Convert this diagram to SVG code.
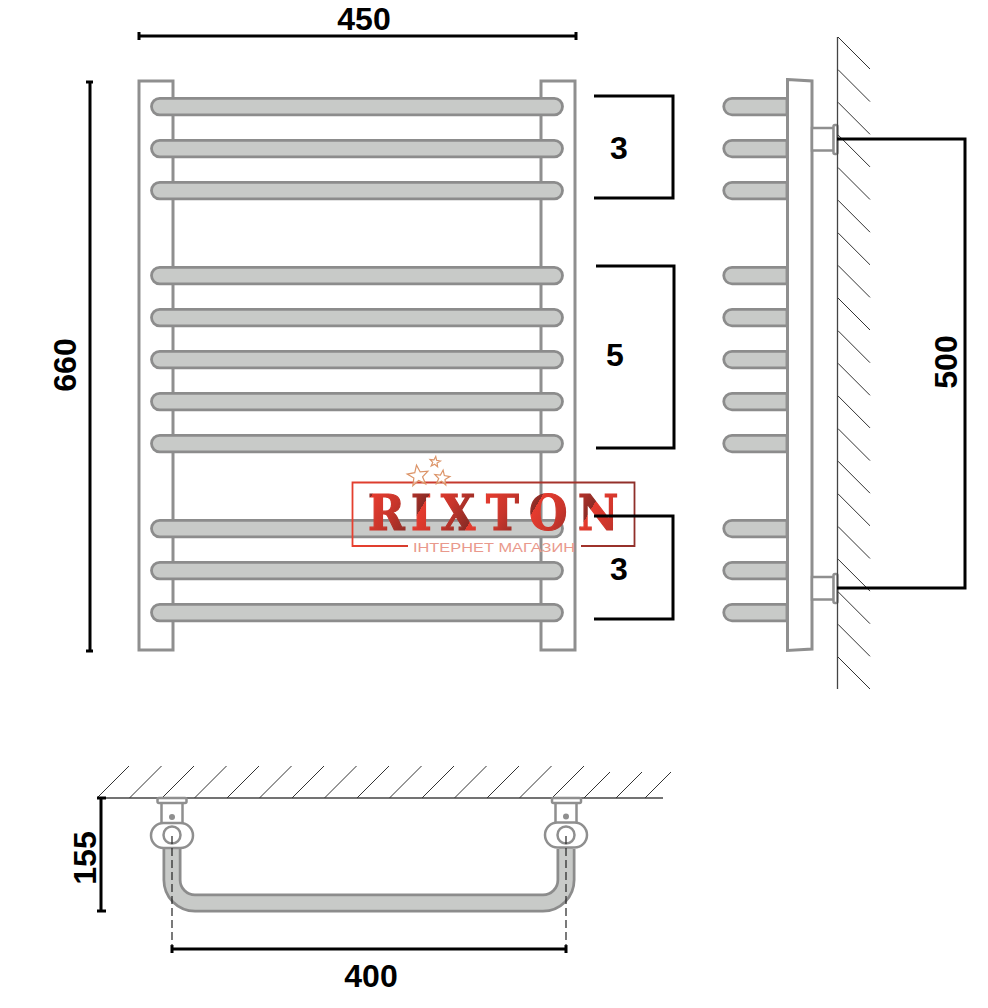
<svg xmlns="http://www.w3.org/2000/svg" width="988" height="1008" viewBox="0 0 988 1008">
<style>
.post{fill:#fff;stroke:#8f8f8f;stroke-width:3}
.bar{fill:#c8cac8;stroke:#8c8c8c;stroke-width:2.800}
.part{fill:#fff;stroke:#8f8f8f;stroke-width:2.500}
.dim{fill:none;stroke:#000;stroke-width:3}
.hatch{fill:none;stroke:#333;stroke-width:1}
.wall{fill:none;stroke:#444;stroke-width:1.300}
.label{font-family:"Liberation Sans",Arial,sans-serif;font-weight:bold;font-size:32px;fill:#000;text-anchor:middle}
.dash{fill:none;stroke:#222;stroke-width:1.200;stroke-dasharray:8 4}
.star{fill:#fff;fill-opacity:.6;stroke:#dc9468;stroke-width:1.200;vector-effect:non-scaling-stroke}
</style>
<defs>
<rect id="fb" class="bar" x="151.500" y="-7.700" width="411" height="16.500" rx="8.200"/>
<path id="sb" class="bar" d="M787 -7.700H732a8.200 8.200 0 0 0 0 16.500H787Z"/>
<polygon id="st" class="star" points="0,-10 2.47,-3.4 9.51,-3.09 3.99,1.3 5.88,8.09 0,4.2 -5.88,8.09 -3.99,1.3 -9.51,-3.09 -2.47,-3.4"/>
<linearGradient id="lg" gradientUnits="userSpaceOnUse" x1="369" y1="500" x2="411" y2="525" spreadMethod="repeat">
<stop offset="0" stop-color="#e63b2e"/><stop offset=".5" stop-color="#c8352b"/><stop offset="1" stop-color="#8a2b25"/>
</linearGradient>
<linearGradient id="lb" gradientUnits="userSpaceOnUse" x1="352" y1="547" x2="635" y2="482">
<stop offset="0" stop-color="#e8402f"/><stop offset="1" stop-color="#8e2f2a"/>
</linearGradient>
</defs>

<g id="front-view">
<rect class="post" x="139" y="81" width="34" height="569"/>
<rect class="post" x="541" y="81" width="34" height="569"/>
<use href="#fb" y="106"/><use href="#fb" y="148"/><use href="#fb" y="190"/>
<use href="#fb" y="275"/><use href="#fb" y="317"/><use href="#fb" y="359"/><use href="#fb" y="401"/><use href="#fb" y="443"/>
<use href="#fb" y="528"/><use href="#fb" y="570"/><use href="#fb" y="612"/>
</g>

<g id="side-view">
<use href="#sb" y="106"/><use href="#sb" y="148"/><use href="#sb" y="190"/>
<use href="#sb" y="275"/><use href="#sb" y="317"/><use href="#sb" y="359"/><use href="#sb" y="401"/><use href="#sb" y="443"/>
<use href="#sb" y="528"/><use href="#sb" y="570"/><use href="#sb" y="612"/>
<polygon class="post" points="787.500,79.500 812,81 812,649 787.500,650.500"/>
<rect class="part" x="812" y="128" width="22" height="22.500"/>
<rect class="part" x="833.500" y="125" width="4" height="29" rx="1.500"/>
<rect class="part" x="812" y="577" width="22" height="22.500"/>
<rect class="part" x="833.500" y="574" width="4" height="29" rx="1.500"/>
</g>

<g id="side-wall">
<path class="wall" d="M837.500 37V689"/>
<path class="hatch" d="M838 37l32 32M838 69.600l32 32M838 102.300l32 32M838 134.900l32 32M838 167.500l32 32M838 200.200l32 32M838 232.800l32 32M838 265.400l32 32M838 298l32 32M838 330.700l32 32M838 363.300l32 32M838 395.900l32 32M838 428.600l32 32M838 461.200l32 32M838 493.800l32 32M838 526.500l32 32M838 559.100l32 32M838 591.700l32 32M838 624.300l32 32M838 657l32 32"/>
</g>

<g id="top-wall">
<path class="wall" d="M98 798H663"/>
<path class="hatch" d="M97 798l32-32M129.500 798l32-32M162 798l32-32M194.500 798l32-32M227 798l32-32M259.500 798l32-32M292 798l32-32M324.500 798l32-32M357 798l32-32M389.500 798l32-32M422 798l32-32M454.500 798l32-32M487 798l32-32M519.500 798l32-32M552 798l32-32M584 798l26-26M616 798l26-26M645 798l26-26"/>
</g>

<g id="top-view">
<path d="M172 849V880A23 23 0 0 0 195 903H543A23 23 0 0 0 566 880V849" fill="none" stroke="#8c8c8c" stroke-width="19"/>
<path d="M172 847V880A23 23 0 0 0 195 903H543A23 23 0 0 0 566 880V847" fill="none" stroke="#c8cac8" stroke-width="13.500"/>
<rect class="part" x="161.500" y="802" width="21" height="22"/>
<rect class="part" x="157.500" y="798" width="29" height="5" rx="1.500"/>
<circle cx="172" cy="817" r="3" fill="#8f8f8f"/>
<rect class="part" x="151" y="823" width="42" height="25" rx="12.500"/>
<circle class="part" cx="172" cy="835" r="8.500"/>
<rect class="part" x="555.500" y="802" width="21" height="22"/>
<rect class="part" x="552" y="798" width="29" height="5" rx="1.500"/>
<circle cx="566" cy="816.500" r="3" fill="#8f8f8f"/>
<rect class="part" x="545" y="822.500" width="42" height="25" rx="12.500"/>
<circle class="part" cx="566" cy="835" r="8.500"/>
</g>

<g id="logo">
<path d="M408 546H352.500V482.500H634.500V546H581" fill="none" stroke="url(#lb)" stroke-width="1.800"/>
<text x="368 411 441 486 529 578" y="530" font-family="'DejaVu Serif Condensed','DejaVu Serif','Liberation Serif',serif" font-weight="bold" font-size="49" fill="url(#lg)" stroke="url(#lg)" stroke-width="1.200">RIXTON</text>
<text x="413" y="552" textLength="162" lengthAdjust="spacingAndGlyphs" font-family="'Liberation Sans',Arial,sans-serif" font-size="13" fill="#e9998c">ІНТЕРНЕТ МАГАЗИН</text>
<use href="#st" transform="translate(418 476) rotate(-8) scale(1.100)"/>
<use href="#st" transform="translate(442 478) rotate(8) scale(.8)"/>
<use href="#st" transform="translate(435 462) rotate(8) scale(.55)"/>
</g>

<g id="connectors">
<path class="dim" d="M139 36H576M139 32V40M576 32V40"/>
<path class="dim" d="M90 82V651M86 82H93M86 651H93"/>
<path class="dim" d="M594 96H673V198H594"/>
<path class="dim" d="M596 266H674V448H596"/>
<path class="dim" d="M594 516H673V619H594"/>
<path class="dim" d="M837 139H965V588H837"/>
<path class="dim" d="M101 798V911M97 798H106M97 911H106"/>
<path class="dim" d="M172 949H566M172 945V953M566 945V953"/>
<path class="dash" d="M172 836V946M566 836V946"/>
</g>

<g id="labels">
<text class="label" x="364" y="30">450</text>
<text class="label" x="619" y="159">3</text>
<text class="label" x="615" y="366">5</text>
<text class="label" x="619" y="580">3</text>
<text class="label" transform="translate(76 365) rotate(-90)">660</text>
<text class="label" transform="translate(957 362) rotate(-90)">500</text>
<text class="label" transform="translate(96 858) rotate(-90)">155</text>
<text class="label" x="371" y="987">400</text>
</g>
</svg>
